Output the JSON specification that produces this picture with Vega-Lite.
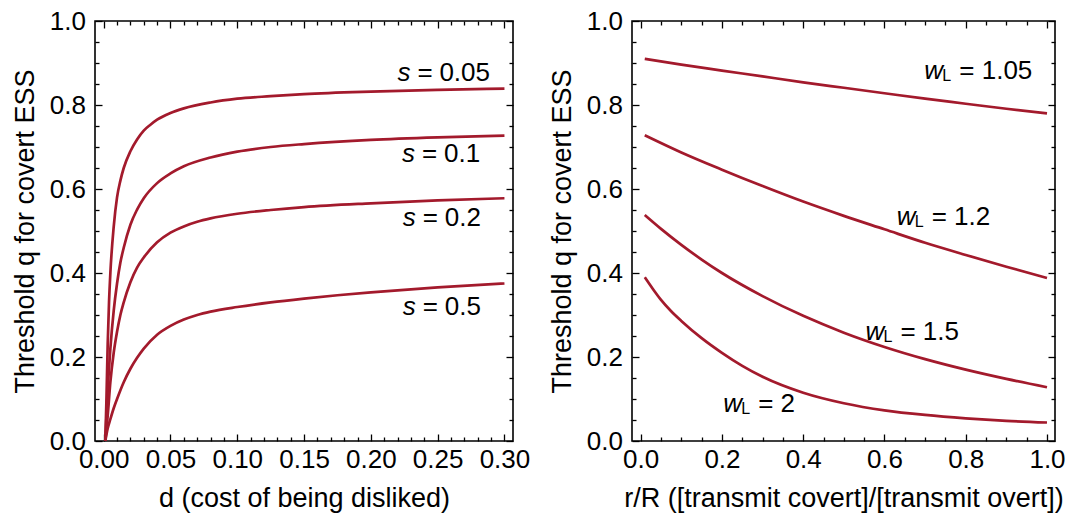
{
  "$schema": "https://vega.github.io/schema/vega-lite/v6.json",
  "autosize": {"type": "pad"},
  "padding": {"left": 10, "top": 7, "right": 0, "bottom": 0},
  "background": "white",
  "config": {
    "view": {"stroke": "black", "strokeWidth": 1.6},
    "font": "Liberation Sans",
    "text": {"font": "Liberation Sans", "color": "black"},
    "axis": {
      "domain": false, "grid": false,
      "labelFont": "Liberation Sans", "labelFontSize": 26, "labelColor": "black",
      "titleFont": "Liberation Sans", "titleFontSize": 27, "titleFontWeight": "normal", "titleColor": "black",
      "tickColor": "black", "tickWidth": 1.3, "labelFlush": false, "labelOverlap": false
    }
  },
  "datasets": {
    "leftCurves": [
      {"s": "0.05", "d": 0.0012, "q": 0}, {"s": "0.05", "d": 0.002, "q": 0.09}, {"s": "0.05", "d": 0.003, "q": 0.23}, {"s": "0.05", "d": 0.004, "q": 0.33}, {"s": "0.05", "d": 0.005, "q": 0.40}, {"s": "0.05", "d": 0.0075, "q": 0.51}, {"s": "0.05", "d": 0.01, "q": 0.58}, {"s": "0.05", "d": 0.0125, "q": 0.62}, {"s": "0.05", "d": 0.015, "q": 0.65}, {"s": "0.05", "d": 0.02, "q": 0.69}, {"s": "0.05", "d": 0.025, "q": 0.718}, {"s": "0.05", "d": 0.03, "q": 0.739}, {"s": "0.05", "d": 0.035, "q": 0.753}, {"s": "0.05", "d": 0.04, "q": 0.765}, {"s": "0.05", "d": 0.05, "q": 0.781}, {"s": "0.05", "d": 0.06, "q": 0.792}, {"s": "0.05", "d": 0.08, "q": 0.806}, {"s": "0.05", "d": 0.1, "q": 0.815}, {"s": "0.05", "d": 0.125, "q": 0.821}, {"s": "0.05", "d": 0.15, "q": 0.826}, {"s": "0.05", "d": 0.2, "q": 0.832}, {"s": "0.05", "d": 0.25, "q": 0.836}, {"s": "0.05", "d": 0.3, "q": 0.839},
      {"s": "0.1", "d": 0.0012, "q": 0}, {"s": "0.1", "d": 0.003, "q": 0.12}, {"s": "0.1", "d": 0.005, "q": 0.22}, {"s": "0.1", "d": 0.0075, "q": 0.31}, {"s": "0.1", "d": 0.01, "q": 0.375}, {"s": "0.1", "d": 0.0125, "q": 0.425}, {"s": "0.1", "d": 0.015, "q": 0.46}, {"s": "0.1", "d": 0.02, "q": 0.515}, {"s": "0.1", "d": 0.025, "q": 0.551}, {"s": "0.1", "d": 0.03, "q": 0.578}, {"s": "0.1", "d": 0.04, "q": 0.614}, {"s": "0.1", "d": 0.05, "q": 0.637}, {"s": "0.1", "d": 0.06, "q": 0.654}, {"s": "0.1", "d": 0.08, "q": 0.675}, {"s": "0.1", "d": 0.1, "q": 0.689}, {"s": "0.1", "d": 0.125, "q": 0.7}, {"s": "0.1", "d": 0.15, "q": 0.707}, {"s": "0.1", "d": 0.2, "q": 0.717}, {"s": "0.1", "d": 0.25, "q": 0.723}, {"s": "0.1", "d": 0.3, "q": 0.727},
      {"s": "0.2", "d": 0.0012, "q": 0}, {"s": "0.2", "d": 0.003, "q": 0.06}, {"s": "0.2", "d": 0.005, "q": 0.14}, {"s": "0.2", "d": 0.0075, "q": 0.21}, {"s": "0.2", "d": 0.01, "q": 0.26}, {"s": "0.2", "d": 0.0125, "q": 0.30}, {"s": "0.2", "d": 0.015, "q": 0.33}, {"s": "0.2", "d": 0.02, "q": 0.378}, {"s": "0.2", "d": 0.025, "q": 0.413}, {"s": "0.2", "d": 0.03, "q": 0.437}, {"s": "0.2", "d": 0.04, "q": 0.473}, {"s": "0.2", "d": 0.05, "q": 0.496}, {"s": "0.2", "d": 0.06, "q": 0.511}, {"s": "0.2", "d": 0.07, "q": 0.522}, {"s": "0.2", "d": 0.08, "q": 0.53}, {"s": "0.2", "d": 0.1, "q": 0.541}, {"s": "0.2", "d": 0.125, "q": 0.55}, {"s": "0.2", "d": 0.15, "q": 0.557}, {"s": "0.2", "d": 0.2, "q": 0.566}, {"s": "0.2", "d": 0.25, "q": 0.573}, {"s": "0.2", "d": 0.3, "q": 0.578},
      {"s": "0.5", "d": 0.0012, "q": 0}, {"s": "0.5", "d": 0.003, "q": 0.03}, {"s": "0.5", "d": 0.005, "q": 0.052}, {"s": "0.5", "d": 0.0075, "q": 0.078}, {"s": "0.5", "d": 0.01, "q": 0.1}, {"s": "0.5", "d": 0.015, "q": 0.14}, {"s": "0.5", "d": 0.02, "q": 0.172}, {"s": "0.5", "d": 0.025, "q": 0.198}, {"s": "0.5", "d": 0.03, "q": 0.22}, {"s": "0.5", "d": 0.04, "q": 0.253}, {"s": "0.5", "d": 0.05, "q": 0.274}, {"s": "0.5", "d": 0.06, "q": 0.289}, {"s": "0.5", "d": 0.07, "q": 0.3}, {"s": "0.5", "d": 0.08, "q": 0.308}, {"s": "0.5", "d": 0.1, "q": 0.319}, {"s": "0.5", "d": 0.125, "q": 0.33}, {"s": "0.5", "d": 0.15, "q": 0.339}, {"s": "0.5", "d": 0.175, "q": 0.347}, {"s": "0.5", "d": 0.2, "q": 0.354}, {"s": "0.5", "d": 0.25, "q": 0.366}, {"s": "0.5", "d": 0.3, "q": 0.375}
    ],
    "leftLabels": [
      {"d": 0.2296, "q": 0.858, "num": "0.05"},
      {"d": 0.233, "q": 0.665, "num": "0.1"},
      {"d": 0.2336, "q": 0.512, "num": "0.2"},
      {"d": 0.2336, "q": 0.301, "num": "0.5"}
    ],
    "rightCurves": [
      {"w": "1.05", "r": 0.01, "q": 0.91}, {"w": "1.05", "r": 0.1, "q": 0.896}, {"w": "1.05", "r": 0.2, "q": 0.882}, {"w": "1.05", "r": 0.3, "q": 0.868}, {"w": "1.05", "r": 0.4, "q": 0.854}, {"w": "1.05", "r": 0.5, "q": 0.841}, {"w": "1.05", "r": 0.6, "q": 0.828}, {"w": "1.05", "r": 0.7, "q": 0.815}, {"w": "1.05", "r": 0.8, "q": 0.803}, {"w": "1.05", "r": 0.9, "q": 0.791}, {"w": "1.05", "r": 1.0, "q": 0.78},
      {"w": "1.2", "r": 0.01, "q": 0.728}, {"w": "1.2", "r": 0.1, "q": 0.687}, {"w": "1.2", "r": 0.2, "q": 0.646}, {"w": "1.2", "r": 0.3, "q": 0.607}, {"w": "1.2", "r": 0.4, "q": 0.57}, {"w": "1.2", "r": 0.5, "q": 0.536}, {"w": "1.2", "r": 0.6, "q": 0.504}, {"w": "1.2", "r": 0.7, "q": 0.472}, {"w": "1.2", "r": 0.8, "q": 0.443}, {"w": "1.2", "r": 0.9, "q": 0.415}, {"w": "1.2", "r": 1.0, "q": 0.388},
      {"w": "1.5", "r": 0.01, "q": 0.538}, {"w": "1.5", "r": 0.05, "q": 0.505}, {"w": "1.5", "r": 0.1, "q": 0.467}, {"w": "1.5", "r": 0.15, "q": 0.432}, {"w": "1.5", "r": 0.2, "q": 0.4}, {"w": "1.5", "r": 0.3, "q": 0.345}, {"w": "1.5", "r": 0.4, "q": 0.298}, {"w": "1.5", "r": 0.5, "q": 0.258}, {"w": "1.5", "r": 0.6, "q": 0.224}, {"w": "1.5", "r": 0.7, "q": 0.195}, {"w": "1.5", "r": 0.8, "q": 0.17}, {"w": "1.5", "r": 0.9, "q": 0.148}, {"w": "1.5", "r": 1.0, "q": 0.128},
      {"w": "2", "r": 0.01, "q": 0.39}, {"w": "2", "r": 0.03, "q": 0.362}, {"w": "2", "r": 0.05, "q": 0.336}, {"w": "2", "r": 0.075, "q": 0.309}, {"w": "2", "r": 0.1, "q": 0.286}, {"w": "2", "r": 0.15, "q": 0.245}, {"w": "2", "r": 0.2, "q": 0.21}, {"w": "2", "r": 0.25, "q": 0.179}, {"w": "2", "r": 0.3, "q": 0.153}, {"w": "2", "r": 0.4, "q": 0.115}, {"w": "2", "r": 0.5, "q": 0.09}, {"w": "2", "r": 0.6, "q": 0.073}, {"w": "2", "r": 0.7, "q": 0.062}, {"w": "2", "r": 0.8, "q": 0.054}, {"w": "2", "r": 0.9, "q": 0.048}, {"w": "2", "r": 1.0, "q": 0.044}
    ],
    "rightLabels": [
      {"r": 0.698, "q": 0.862, "label": "= 1.05"},
      {"r": 0.63, "q": 0.5145, "label": "= 1.2"},
      {"r": 0.553, "q": 0.2406, "label": "= 1.5"},
      {"r": 0.203, "q": 0.0688, "label": "= 2"}
    ]
  },
  "bounds": "flush",
  "spacing": 119,
  "hconcat": [
    {
      "width": 418,
      "height": 420,
      "layer": [
        {
          "data": {"name": "leftCurves"},
          "mark": {"type": "line", "color": "#a31a2c", "strokeWidth": 2.7, "interpolate": "monotone", "clip": true},
          "encoding": {
            "x": {"field": "d", "type": "quantitative",
              "scale": {"domain": [-0.0065, 0.3064], "nice": false, "zero": false},
              "axis": {"orient": "bottom", "title": "d (cost of being disliked)",
                "values": [0, 0.05, 0.1, 0.15, 0.2, 0.25, 0.3], "format": ".2f",
                "offset": -7, "tickSize": 7, "labelPadding": 5.5, "titlePadding": 13}},
            "y": {"field": "q", "type": "quantitative",
              "scale": {"domain": [0, 1], "nice": false, "zero": false},
              "axis": {"orient": "left", "title": "Threshold q for covert ESS",
                "values": [0, 0.2, 0.4, 0.6, 0.8, 1], "format": ".1f",
                "offset": -7, "tickSize": 7, "labelPadding": 9.5, "titlePadding": 10}},
            "detail": {"field": "s"}
          }
        },
        {
          "data": {"name": "leftLabels"},
          "mark": {"type": "text", "fontStyle": "italic", "align": "right", "baseline": "alphabetic", "fontSize": 26},
          "encoding": {
            "x": {"field": "d", "type": "quantitative",
              "axis": {"orient": "top", "title": null, "labels": false,
                "values": [0, 0.05, 0.1, 0.15, 0.2, 0.25, 0.3], "offset": -7, "tickSize": 7}},
            "y": {"field": "q", "type": "quantitative",
              "axis": {"orient": "right", "title": null, "labels": false,
                "values": [0, 0.2, 0.4, 0.6, 0.8, 1], "offset": -7, "tickSize": 7}},
            "text": {"value": "s"}
          }
        },
        {
          "data": {"name": "leftLabels"},
          "mark": {"type": "text", "align": "left", "baseline": "alphabetic", "fontSize": 26, "dx": 7},
          "encoding": {
            "x": {"field": "d", "type": "quantitative",
              "axis": {"orient": "bottom", "title": null, "labels": false,
                "values": [0.01,0.02,0.03,0.04,0.06,0.07,0.08,0.09,0.11,0.12,0.13,0.14,0.16,0.17,0.18,0.19,0.21,0.22,0.23,0.24,0.26,0.27,0.28,0.29],
                "offset": -4, "tickSize": 4}},
            "y": {"field": "q", "type": "quantitative",
              "axis": {"orient": "left", "title": null, "labels": false,
                "values": [0.05,0.1,0.15,0.25,0.3,0.35,0.45,0.5,0.55,0.65,0.7,0.75,0.85,0.9,0.95],
                "offset": -4, "tickSize": 4}},
            "text": {"value": "="}
          }
        },
        {
          "data": {"name": "leftLabels"},
          "mark": {"type": "text", "align": "left", "baseline": "alphabetic", "fontSize": 26, "dx": 29},
          "encoding": {
            "x": {"field": "d", "type": "quantitative",
              "axis": {"orient": "top", "title": null, "labels": false,
                "values": [0.01,0.02,0.03,0.04,0.06,0.07,0.08,0.09,0.11,0.12,0.13,0.14,0.16,0.17,0.18,0.19,0.21,0.22,0.23,0.24,0.26,0.27,0.28,0.29],
                "offset": -4, "tickSize": 4}},
            "y": {"field": "q", "type": "quantitative",
              "axis": {"orient": "right", "title": null, "labels": false,
                "values": [0.05,0.1,0.15,0.25,0.3,0.35,0.45,0.5,0.55,0.65,0.7,0.75,0.85,0.9,0.95],
                "offset": -4, "tickSize": 4}},
            "text": {"field": "num"}
          }
        }
      ],
      "resolve": {"axis": {"x": "independent", "y": "independent"}}
    },
    {
      "width": 423,
      "height": 420,
      "layer": [
        {
          "data": {"name": "rightCurves"},
          "mark": {"type": "line", "color": "#a31a2c", "strokeWidth": 2.7, "interpolate": "monotone", "clip": true},
          "encoding": {
            "x": {"field": "r", "type": "quantitative",
              "scale": {"domain": [-0.0214, 1.0197], "nice": false, "zero": false},
              "axis": {"orient": "bottom", "title": "r/R ([transmit covert]/[transmit overt])",
                "values": [0, 0.2, 0.4, 0.6, 0.8, 1], "format": ".1f",
                "offset": -7, "tickSize": 7, "labelPadding": 5.5, "titlePadding": 13}},
            "y": {"field": "q", "type": "quantitative",
              "scale": {"domain": [0, 1], "nice": false, "zero": false},
              "axis": {"orient": "left", "title": "Threshold q for covert ESS",
                "values": [0, 0.2, 0.4, 0.6, 0.8, 1], "format": ".1f",
                "offset": -7, "tickSize": 7, "labelPadding": 9.5, "titlePadding": 10}},
            "detail": {"field": "w"}
          }
        },
        {
          "data": {"name": "rightLabels"},
          "mark": {"type": "text", "fontStyle": "italic", "align": "left", "baseline": "alphabetic", "fontSize": 26},
          "encoding": {
            "x": {"field": "r", "type": "quantitative",
              "axis": {"orient": "top", "title": null, "labels": false,
                "values": [0, 0.2, 0.4, 0.6, 0.8, 1], "offset": -7, "tickSize": 7}},
            "y": {"field": "q", "type": "quantitative",
              "axis": {"orient": "right", "title": null, "labels": false,
                "values": [0, 0.2, 0.4, 0.6, 0.8, 1], "offset": -7, "tickSize": 7}},
            "text": {"value": "w"}
          }
        },
        {
          "data": {"name": "rightLabels"},
          "mark": {"type": "text", "align": "left", "baseline": "alphabetic", "fontSize": 16, "dx": 18, "dy": 2},
          "encoding": {
            "x": {"field": "r", "type": "quantitative",
              "axis": {"orient": "bottom", "title": null, "labels": false,
                "values": [0.05,0.1,0.15,0.25,0.3,0.35,0.45,0.5,0.55,0.65,0.7,0.75,0.85,0.9,0.95],
                "offset": -4, "tickSize": 4}},
            "y": {"field": "q", "type": "quantitative",
              "axis": {"orient": "left", "title": null, "labels": false,
                "values": [0.05,0.1,0.15,0.25,0.3,0.35,0.45,0.5,0.55,0.65,0.7,0.75,0.85,0.9,0.95],
                "offset": -4, "tickSize": 4}},
            "text": {"value": "L"}
          }
        },
        {
          "data": {"name": "rightLabels"},
          "mark": {"type": "text", "align": "left", "baseline": "alphabetic", "fontSize": 26, "dx": 35},
          "encoding": {
            "x": {"field": "r", "type": "quantitative",
              "axis": {"orient": "top", "title": null, "labels": false,
                "values": [0.05,0.1,0.15,0.25,0.3,0.35,0.45,0.5,0.55,0.65,0.7,0.75,0.85,0.9,0.95],
                "offset": -4, "tickSize": 4}},
            "y": {"field": "q", "type": "quantitative",
              "axis": {"orient": "right", "title": null, "labels": false,
                "values": [0.05,0.1,0.15,0.25,0.3,0.35,0.45,0.5,0.55,0.65,0.7,0.75,0.85,0.9,0.95],
                "offset": -4, "tickSize": 4}},
            "text": {"field": "label"}
          }
        }
      ],
      "resolve": {"axis": {"x": "independent", "y": "independent"}}
    }
  ]
}
